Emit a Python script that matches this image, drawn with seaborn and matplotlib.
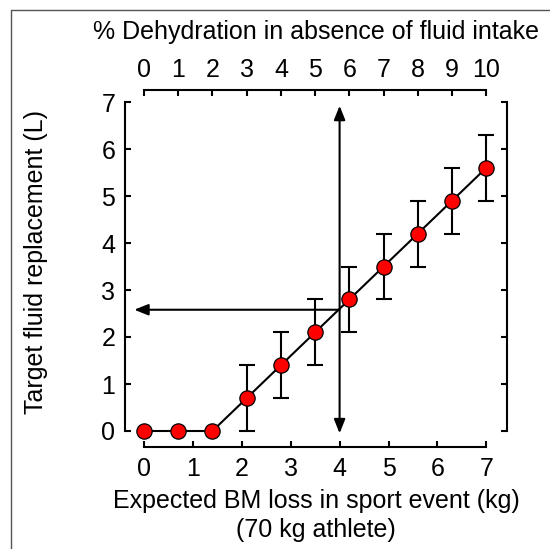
import matplotlib
matplotlib.use("Agg")
import matplotlib.pyplot as plt
import numpy as np
import pandas as pd
import seaborn as sns
from matplotlib.lines import Line2D

# Data
pct_dehydration = [0, 1, 2, 3, 4, 5, 6, 7, 8, 9, 10]
bm_loss_kg = [0.0, 0.7, 1.4, 2.1, 2.8, 3.5, 4.2, 4.9, 5.6, 6.3, 7.0]
fluid_l = [0.0, 0.0, 0.0, 0.7, 1.4, 2.1, 2.8, 3.5, 4.2, 4.9, 5.6]
fluid_err = [0.0, 0.0, 0.0, 0.7, 0.7, 0.7, 0.7, 0.7, 0.7, 0.7, 0.7]

# Example read-off arrows
example_bm = 4.0
example_fluid = 2.58
vert_range = (-0.05, 6.92)
horiz_end = -0.2

df = pd.DataFrame({"bm": bm_loss_kg, "fluid": fluid_l, "err": fluid_err})

sns.set_theme(style="ticks")
plt.rcParams["font.family"] = ["Liberation Sans", "DejaVu Sans"]
plt.rcParams["text.color"] = "black"

W, H = 550, 549
FS = 18
fig = plt.figure(figsize=(W / 100, H / 100), dpi=100)
ax = fig.add_axes([125 / W, 1 - 447 / H, (507 - 125) / W, (447 - 90) / H])

xpx = lambda p: (p - 144) / 48.9
ypx = lambda p: (431 - p) / 47.0
ax.set_xlim(xpx(125), xpx(507))
ax.set_ylim(ypx(447), ypx(90))

# error bars (only where there is spread)
eb = df[df["err"] > 0]
ax.errorbar(eb["bm"], eb["fluid"], yerr=eb["err"], fmt="none", ecolor="black",
            elinewidth=1.5, capsize=5.8, capthick=1.5, zorder=2)

sns.lineplot(data=df, x="bm", y="fluid", ax=ax, color="black", linewidth=1.5,
             marker="o", markersize=11, markerfacecolor="red",
             markeredgecolor="black", markeredgewidth=0.9, zorder=3)

# arrows
ax.annotate("", xy=(example_bm, vert_range[1]), xytext=(example_bm, vert_range[0]),
            arrowprops=dict(arrowstyle="<|-|>,head_length=0.7,head_width=0.28",
                            color="black", lw=1.5, shrinkA=0, shrinkB=0), zorder=1)
ax.annotate("", xy=(horiz_end, example_fluid), xytext=(example_bm, example_fluid),
            arrowprops=dict(arrowstyle="-|>,head_length=0.7,head_width=0.28",
                            color="black", lw=1.5, shrinkA=0, shrinkB=0), zorder=1)

ax.set_xlabel("")
ax.set_ylabel("")
ax.set_xticks(range(0, 8))
ax.set_yticks(range(0, 8))
for s in ["left", "right", "bottom", "top"]:
    ax.spines[s].set_linewidth(1.5)
    ax.spines[s].set_color("black")
    ax.spines[s].set_bounds(0, 7)
ax.spines["top"].set_visible(False)
ax.tick_params(axis="both", direction="in", length=4.5, width=1.5, labelsize=FS,
               colors="black")
ax.tick_params(axis="x", pad=7)
ax.tick_params(axis="y", pad=7, right=True, labelright=False)

ax2 = ax.twiny()
lo, hi = ax.get_xlim()
ax2.set_xlim(lo * 10 / 7, hi * 10 / 7)
ax2.set_xticks(pct_dehydration)
for s in ["left", "right", "bottom"]:
    ax2.spines[s].set_visible(False)
ax2.spines["top"].set_bounds(0, 10)
ax2.spines["top"].set_linewidth(1.5)
ax2.spines["top"].set_color("black")
ax2.tick_params(axis="x", direction="in", length=4.5, width=1.5, labelsize=FS,
                pad=6, colors="black")

cx = 316 / W
fig.text(cx, 1 - 32 / H, "% Dehydration in absence of fluid intake",
         ha="center", va="center", fontsize=FS)
fig.text(cx, 1 - 501 / H, "Expected BM loss in sport event (kg)",
         ha="center", va="center", fontsize=FS)
fig.text(cx, 1 - 530 / H, "(70 kg athlete)",
         ha="center", va="center", fontsize=FS)
fig.text(36 / W, 1 - 262 / H, "Target fluid replacement (L)",
         ha="center", va="center", rotation=90, fontsize=FS)

# thin frame around the figure
fig.add_artist(Line2D([11 / W, 11 / W], [0, 1 - 10 / H], color="#555555", lw=1.0))
fig.add_artist(Line2D([11 / W, 1], [1 - 10 / H, 1 - 10 / H], color="#555555", lw=1.0))

fig.savefig("out.png", dpi=100)
